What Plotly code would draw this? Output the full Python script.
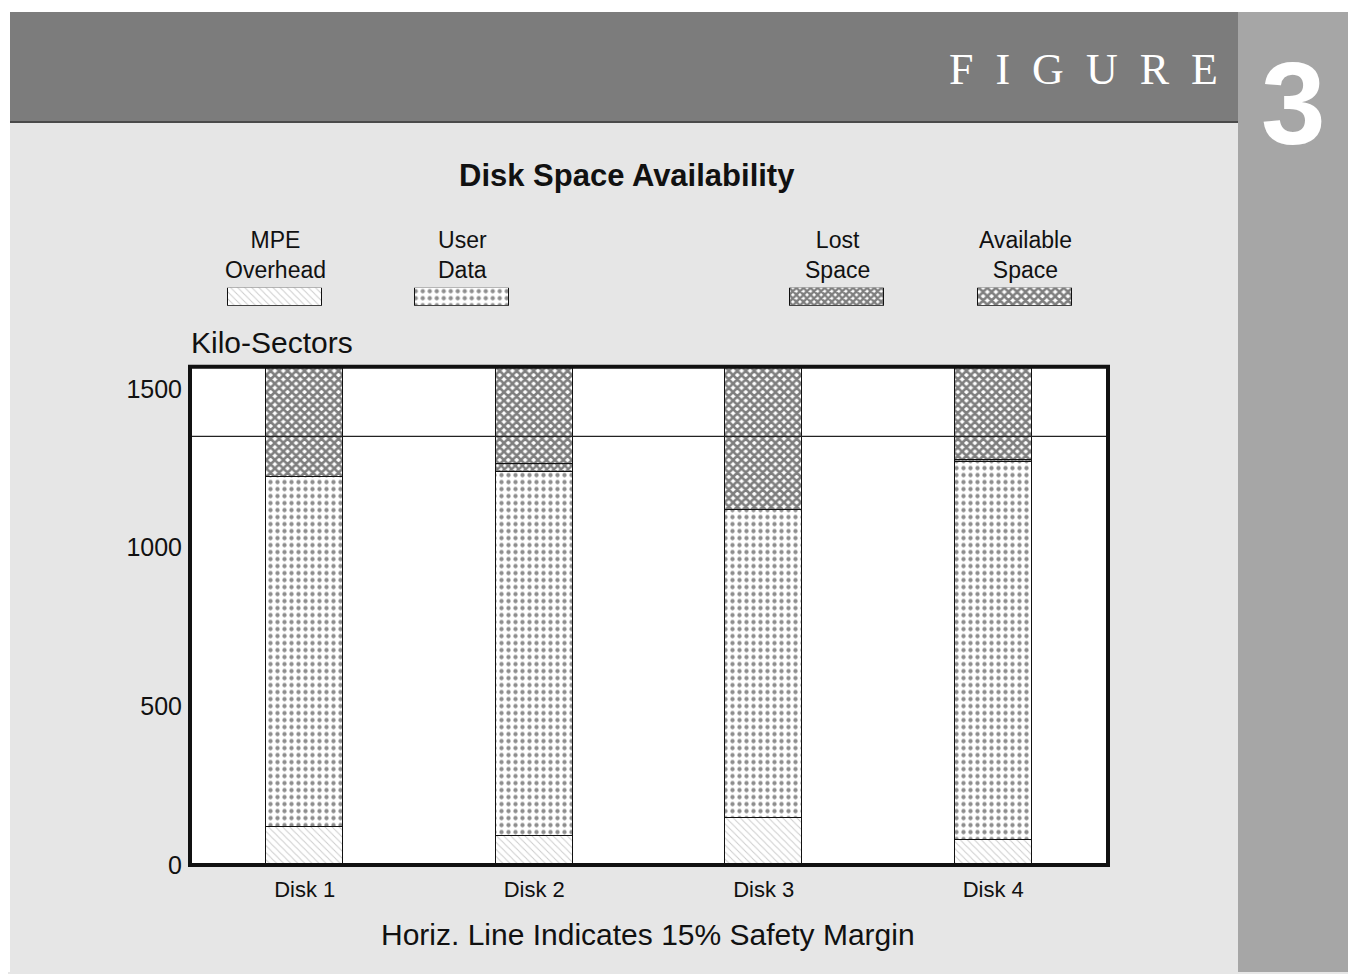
import plotly.graph_objects as go

# ---- data ----
disks = ["Disk 1", "Disk 2", "Disk 3", "Disk 4"]
mpe_overhead = [120, 92, 150, 80]
user_data = [1102, 1146, 971, 1192]
lost_space = [0, 25, 0, 6]
available_space = [348, 307, 449, 292]
safety_line = 1350
y_ticks = [0, 500, 1000, 1500]
y_max = 1570

series_names = ["MPE<br>Overhead", "User<br>Data", "Lost<br>Space", "Available<br>Space"]
series_values = [mpe_overhead, user_data, lost_space, available_space]
legend_slots = [0, 1, 3, 4]

patterns = [
    dict(shape="\\", fgcolor="#9a9a9a", bgcolor="white", size=5, solidity=0.2),
    dict(shape=".", fgcolor="#1e1e1e", bgcolor="white", size=7, solidity=0.3),
    dict(shape="x", fgcolor="#000000", bgcolor="white", size=5, solidity=0.72),
    dict(shape="x", fgcolor="#000000", bgcolor="white", size=6, solidity=0.68),
]

W, H = 1348, 978
OFF = 8
S = 0.987  # vertical scale of the photographed page
def px(x):
    return (x - OFF) / W
def py(y):
    return 1 - (y / S - OFF) / H

SANS = "Liberation Sans, Arial, sans-serif"
SERIF = "Liberation Serif, DejaVu Serif, serif"

fig = go.Figure()

for name, vals, pat in zip(series_names, series_values, patterns):
    fig.add_trace(go.Bar(
        x=disks, y=vals, name=name,
        marker=dict(color="white", pattern=pat, line=dict(color="#111", width=1)),
        width=0.335, showlegend=False, xaxis="x", yaxis="y",
    ))

annotations = []
for slot, name, pat in zip(legend_slots, series_names, patterns):
    fig.add_trace(go.Bar(
        x=[slot], y=[1], base=0, name=name,
        marker=dict(color="white", pattern=pat, line=dict(color="#111", width=1)),
        width=0.5, showlegend=False, xaxis="x2", yaxis="y2", hoverinfo="skip",
    ))
    annotations.append(dict(
        x=slot, y=1, xref="x2", yref="y2", text=name, showarrow=False,
        xanchor="center", yanchor="bottom", yshift=3,
        font=dict(family=SANS, size=23, color="#111"),
    ))

shapes = []
shapes.append(dict(type="rect", xref="paper", yref="paper", x0=px(10), x1=px(1238), y0=py(122), y1=py(12),
                   fillcolor="#7c7c7c", line=dict(width=0), layer="below"))
shapes.append(dict(type="rect", xref="paper", yref="paper", x0=px(1238), x1=1, y0=0, y1=py(12),
                   fillcolor="#a6a6a6", line=dict(width=0), layer="below"))
shapes.append(dict(type="line", xref="paper", yref="paper", x0=px(10), x1=px(1238), y0=py(122), y1=py(122),
                   line=dict(color="#4a4a4a", width=2), layer="below"))
shapes.append(dict(type="rect", xref="paper", yref="paper", x0=0, x1=px(10), y0=0, y1=1,
                   fillcolor="white", line=dict(width=0), layer="below"))
shapes.append(dict(type="rect", xref="paper", yref="paper", x0=0, x1=1, y0=py(12), y1=1,
                   fillcolor="white", line=dict(width=0), layer="below"))
# white plot area
shapes.append(dict(type="rect", xref="paper", yref="paper", x0=px(190), x1=px(1108), y0=py(866), y1=py(367),
                   fillcolor="white", line=dict(width=0), layer="below"))
# safety margin line
shapes.append(dict(type="line", xref="paper", yref="y", x0=px(190), x1=px(1108), y0=safety_line, y1=safety_line,
                   line=dict(color="#222", width=1.2)))
# frame
shapes.append(dict(type="rect", xref="paper", yref="paper", x0=px(190), x1=px(1108), y0=py(866), y1=py(367),
                   line=dict(color="#111", width=4)))

def note(text, x, y, size, family=SANS, color="#111", xanchor="center"):
    return dict(text=text, x=px(x), y=py(y), xref="paper", yref="paper", showarrow=False,
                xanchor=xanchor, yanchor="middle", font=dict(family=family, size=size, color=color))

sp = "&nbsp;&nbsp;"
annotations += [
    note(sp.join("FIGURE"), 1083, 69, 44, family=SERIF, color="white"),
    note("<b>3</b>", 1293, 104, 116, color="white"),
    note("<b>Disk Space Availability</b>", 627, 176, 31),
    note("Kilo-Sectors", 189, 343, 30, xanchor="left"),
    note("Horiz. Line Indicates 15% Safety Margin", 648, 936, 30),
]

fig.update_layout(
    width=W, height=H,
    margin=dict(l=0, r=0, t=0, b=0),
    paper_bgcolor="#e6e6e6",
    plot_bgcolor="rgba(0,0,0,0)",
    barmode="stack",
    bargap=0,
    shapes=shapes,
    annotations=annotations,
    xaxis=dict(domain=[px(190), px(1108)], showgrid=False, zeroline=False, showline=False,
               ticks="", ticklabelstandoff=9, tickfont=dict(family=SANS, size=22, color="#111")),
    yaxis=dict(domain=[py(866), py(367)], range=[0, y_max], tickvals=y_ticks, showgrid=False,
               zeroline=False, showline=False, ticks="", ticklabelstandoff=7,
               tickfont=dict(family=SANS, size=25, color="#111")),
    xaxis2=dict(domain=[px(181.25), px(1118.75)], range=[-0.5, 4.5], visible=False, anchor="y2"),
    yaxis2=dict(domain=[py(306), py(288)], range=[0, 1], visible=False, anchor="x2"),
)

fig.write_html("out.html")
